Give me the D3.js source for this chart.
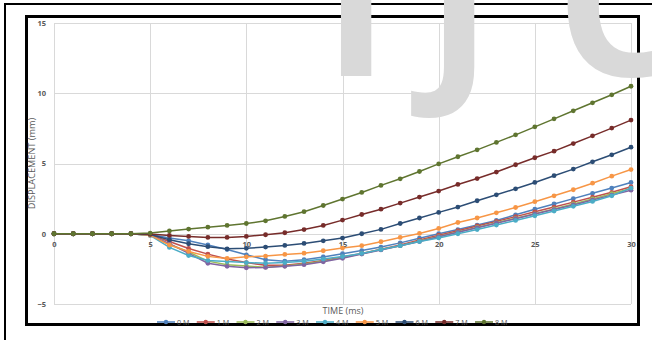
<!DOCTYPE html>
<html>
<head>
<meta charset="utf-8">
<script src="https://cdn.jsdelivr.net/npm/d3@7"></script>
<style>
  body { margin: 0; background: #fff; }
  svg { display: block; }
  text { font-family: "Open Sans", "Liberation Sans", sans-serif; }
</style>
</head>
<body>
<div id="chart"></div>
<script>
const width = 652,
  height = 340;

// time axis (ms)
const times = [0, 1, 2, 3, 4, 5, 6, 7, 8, 9, 10, 11, 12, 13, 14, 15, 16, 17, 18, 19, 20, 21, 22, 23, 24, 25, 26, 27, 28, 29, 30];

// displacement (mm) per load case
const s0M = [0, 0, 0, 0, 0, -0.05, -0.3, -0.5, -0.8, -1.12, -1.5, -1.85, -1.95, -1.85, -1.65, -1.42, -1.2, -0.95, -0.65, -0.32, 0.0, 0.3, 0.62, 0.95, 1.35, 1.75, 2.12, 2.5, 2.88, 3.25, 3.65];
const s1M = [0, 0, 0, 0, 0, -0.08, -0.55, -1.05, -1.45, -1.8, -2.05, -2.25, -2.25, -2.1, -1.9, -1.65, -1.4, -1.1, -0.8, -0.45, -0.1, 0.22, 0.55, 0.88, 1.22, 1.56, 1.9, 2.25, 2.6, 2.95, 3.35];
const s2M = [0, 0, 0, 0, 0, -0.1, -0.75, -1.3, -1.95, -2.2, -2.3, -2.38, -2.3, -2.15, -1.95, -1.7, -1.42, -1.12, -0.85, -0.52, -0.2, 0.12, 0.45, 0.78, 1.1, 1.42, 1.77, 2.12, 2.48, 2.85, 3.22];
const s3M = [0, 0, 0, 0, 0, -0.1, -0.7, -1.4, -2.1, -2.32, -2.42, -2.4, -2.32, -2.2, -2.0, -1.75, -1.45, -1.15, -0.85, -0.55, -0.22, 0.1, 0.42, 0.75, 1.07, 1.4, 1.72, 2.05, 2.4, 2.75, 3.1];
const s4M = [0, 0, 0, 0, 0, -0.12, -0.97, -1.55, -1.9, -1.98, -2.05, -2.1, -2.05, -1.95, -1.8, -1.62, -1.4, -1.12, -0.85, -0.55, -0.3, 0.0, 0.3, 0.62, 0.95, 1.28, 1.62, 1.95, 2.3, 2.7, 3.25];
const s5M = [0, 0, 0, 0, 0, -0.1, -0.8, -1.26, -1.61, -1.76, -1.64, -1.59, -1.47, -1.38, -1.21, -1.02, -0.85, -0.57, -0.26, 0.02, 0.38, 0.8, 1.12, 1.49, 1.87, 2.28, 2.7, 3.13, 3.6, 4.1, 4.57];
const s6M = [0, 0, 0, 0, 0, -0.05, -0.43, -0.71, -0.92, -1.07, -1.04, -0.95, -0.83, -0.69, -0.5, -0.31, 0.0, 0.31, 0.73, 1.12, 1.52, 1.9, 2.35, 2.77, 3.2, 3.65, 4.13, 4.6, 5.12, 5.62, 6.16];
const s7M = [0, 0, 0, 0, 0, -0.02, -0.12, -0.19, -0.26, -0.26, -0.19, -0.07, 0.07, 0.3, 0.59, 0.97, 1.37, 1.75, 2.18, 2.61, 3.04, 3.51, 3.93, 4.39, 4.91, 5.41, 5.88, 6.42, 6.97, 7.52, 8.09];
const s8M = [0, 0, 0, 0, 0, 0.05, 0.2, 0.33, 0.47, 0.59, 0.73, 0.92, 1.23, 1.57, 2.01, 2.47, 2.94, 3.44, 3.91, 4.43, 4.97, 5.48, 5.97, 6.5, 7.04, 7.61, 8.18, 8.75, 9.32, 9.89, 10.5];

const seriesNames = ["0 M", "1 M", "2 M", "3 M", "4 M", "5 M", "6 M", "7 M", "8 M"];
const seriesValues = [s0M, s1M, s2M, s3M, s4M, s5M, s6M, s7M, s8M];
const colors = ["#4F81BD", "#C0504D", "#9BBB59", "#8064A2", "#4BACC6", "#F79646", "#2C4D75", "#772C2A", "#5F7530"];

const xTicks = [0, 5, 10, 15, 20, 25, 30];
const yTicks = [-5, 0, 5, 10, 15];

const svg = d3
  .select("#chart")
  .append("svg")
  .attr("width", width)
  .attr("height", height);

svg.append("rect").attr("width", width).attr("height", height).attr("fill", "#fff");

// outer frame (runs off the page on the right and bottom)
svg
  .append("rect")
  .attr("x", 5)
  .attr("y", 4)
  .attr("width", 700)
  .attr("height", 400)
  .attr("fill", "none")
  .attr("stroke", "#000")
  .attr("stroke-width", 2);

// chart frame
svg
  .append("rect")
  .attr("x", 26.5)
  .attr("y", 16.5)
  .attr("width", 612)
  .attr("height", 308)
  .attr("fill", "none")
  .attr("stroke", "#000")
  .attr("stroke-width", 3);

const x = d3.scaleLinear().domain([0, 30]).range([54, 631]);
const y = d3.scaleLinear().domain([-5, 15]).range([304, 23]);

// grid
const grid = svg.append("g");
grid
  .selectAll("line.h")
  .data(yTicks)
  .join("line")
  .attr("class", "h")
  .attr("x1", x(0))
  .attr("x2", x(30))
  .attr("y1", (d) => Math.round(y(d)) + 0.5)
  .attr("y2", (d) => Math.round(y(d)) + 0.5)
  .attr("stroke", "#d9d9d9");
grid
  .selectAll("line.v")
  .data(xTicks)
  .join("line")
  .attr("class", "v")
  .attr("y1", y(15))
  .attr("y2", y(-5))
  .attr("x1", (d) => Math.round(x(d)) + 0.5)
  .attr("x2", (d) => Math.round(x(d)) + 0.5)
  .attr("stroke", "#d9d9d9");

// watermark, cut off at the top of the page like in the scan
svg
  .append("text")
  .attr("y", 76)
  .attr("font-family", "Liberation Sans, sans-serif")
  .attr("font-weight", "bold")
  .attr("font-size", 200)
  .attr("fill", "#d9d9d9")
  .selectAll("tspan")
  .data([
    { c: "I", x: 323 },
    { c: "J", x: 426 },
    { c: "C", x: 556 },
  ])
  .join("tspan")
  .attr("x", (d) => d.x)
  .text((d) => d.c);

// axes labels
const yAxis = svg
  .append("g")
  .attr("transform", "translate(46,0)")
  .call(d3.axisLeft(y).tickValues(yTicks).tickSize(0).tickPadding(0));
yAxis.select(".domain").remove();
yAxis
  .selectAll("text")
  .attr("fill", "#595959")
  .attr("font-size", 7.5)
  .attr("font-weight", "bold")
  .attr("font-family", "Open Sans, sans-serif");

const xAxis = svg
  .append("g")
  .attr("transform", `translate(0,${y(0)})`)
  .call(d3.axisBottom(x).tickValues(xTicks).tickSize(0).tickPadding(8));
xAxis.select(".domain").remove();
xAxis
  .selectAll("text")
  .attr("fill", "#595959")
  .attr("font-size", 7.5)
  .attr("font-weight", "bold")
  .attr("font-family", "Open Sans, sans-serif");

svg
  .append("text")
  .attr("transform", `translate(35,${(y(15) + y(-5)) / 2}) rotate(-90)`)
  .attr("text-anchor", "middle")
  .attr("font-size", 9.2)
  .attr("fill", "#595959")
  .text("DISPLACEMENT (mm)");

svg
  .append("text")
  .attr("x", 343)
  .attr("y", 314)
  .attr("text-anchor", "middle")
  .attr("font-size", 9)
  .attr("fill", "#595959")
  .text("TIME (ms)");

// series
const line = d3
  .line()
  .x((d, i) => x(times[i]))
  .y((d) => y(d));

const series = svg
  .append("g")
  .selectAll("g.series")
  .data(seriesValues)
  .join("g")
  .attr("class", "series");

series
  .append("path")
  .attr("d", (d) => line(d))
  .attr("fill", "none")
  .attr("stroke", (d, i) => colors[i])
  .attr("stroke-width", 1.5);

series
  .selectAll("circle")
  .data((d, i) => d.map((v, j) => ({ v, t: times[j], c: colors[i] })))
  .join("circle")
  .attr("cx", (d) => x(d.t))
  .attr("cy", (d) => y(d.v))
  .attr("r", 2.4)
  .attr("fill", (d) => d.c);

// legend
const legend = svg
  .append("g")
  .selectAll("g")
  .data(seriesNames)
  .join("g")
  .attr("transform", (d, i) => `translate(${157 + i * 39.75},322)`);

legend
  .append("line")
  .attr("x1", 0)
  .attr("x2", 18)
  .attr("stroke", (d, i) => colors[i])
  .attr("stroke-width", 1.5);
legend
  .append("circle")
  .attr("cx", 9)
  .attr("r", 2.2)
  .attr("fill", (d, i) => colors[i]);
legend
  .append("text")
  .attr("x", 20)
  .attr("dy", "0.35em")
  .attr("font-size", 7.2)
  .attr("fill", "#595959")
  .text((d) => d);
</script>
</body>
</html>
